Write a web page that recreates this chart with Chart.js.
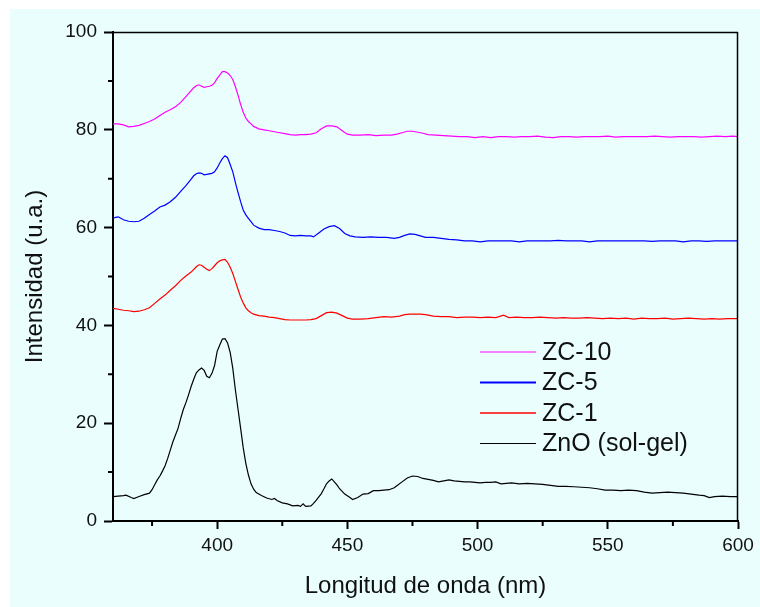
<!DOCTYPE html>
<html>
<head>
<meta charset="utf-8">
<script src="https://cdn.jsdelivr.net/npm/chart.js@4/dist/chart.umd.min.js"></script>
<style>
  html, body { margin: 0; padding: 0; background: #ffffff; }
  #wrap { width: 760px; height: 607px; }
</style>
</head>
<body>
<div id="wrap"><canvas id="c" width="760" height="607"></canvas></div>
<script>
// Photoluminescence spectra: wavelength (nm) and intensity (a.u.) per sample
const zc10Nm  = [360,362,364,366,368,370,372,374,376,378,380,382,384,386,388,390,391,392,393,394,395,396,397,398,399,400,401,402,403,404,405,406,407,408,409,410,411,412,413,414,416,418,420,422,424,426,428,430,432,434,436,438,440,442,444,446,448,450,452,455,458,461,464,467,469,471,473,475,477,479,481,484,487,490,493,496,499,502,505,508,511,514,517,520,523,526,529,532,535,538,541,544,547,550,553,556,559,562,565,568,571,574,577,580,583,586,589,592,595,598,600];
const zc10Int = [81.2,81.2,81.0,80.6,80.7,80.9,81.3,81.7,82.2,82.9,83.6,84.1,84.7,85.6,86.8,88.0,88.6,89.0,89.2,88.9,88.7,88.8,88.9,89.1,89.6,90.5,91.2,91.9,91.9,91.6,91.1,90.3,88.8,87.1,85.2,83.6,82.4,81.7,81.2,80.7,80.2,80.0,79.8,79.6,79.4,79.2,79.0,78.9,79.0,79.0,79.1,79.4,80.2,80.8,80.8,80.6,79.8,79.1,78.9,78.9,79.0,78.8,78.9,78.9,79.1,79.4,79.7,79.7,79.5,79.3,79.0,78.9,78.8,78.7,78.6,78.6,78.4,78.6,78.4,78.6,78.6,78.5,78.6,78.6,78.7,78.5,78.4,78.6,78.6,78.5,78.6,78.6,78.6,78.7,78.5,78.6,78.6,78.6,78.6,78.7,78.6,78.5,78.6,78.6,78.6,78.5,78.6,78.7,78.6,78.7,78.6];

const zc5Nm  = [360,361,362,363,364,366,368,370,372,374,376,378,380,382,384,386,388,390,391,392,393,394,395,396,397,398,399,400,401,402,403,404,405,406,407,408,409,410,411,412,413,414,416,418,420,422,424,426,428,430,432,434,436,437,439,441,443,445,447,449,451,453,456,459,462,465,468,470,472,474,476,478,480,483,486,489,492,495,498,501,504,507,510,513,516,519,522,525,528,531,534,537,540,543,546,549,552,555,558,561,564,567,570,573,576,579,582,585,588,591,594,597,600];
const zc5Int = [61.9,62.1,62.2,61.9,61.6,61.3,61.2,61.3,61.9,62.7,63.4,64.2,64.6,65.3,66.2,67.4,68.6,69.9,70.6,71.0,71.2,71.1,70.8,70.9,71.0,71.1,71.4,72.2,73.2,74.1,74.7,74.3,72.9,71.4,69.2,67.2,65.3,63.6,62.6,61.9,61.2,60.5,59.9,59.6,59.6,59.4,59.2,58.9,58.4,58.3,58.4,58.3,58.3,58.1,58.9,59.7,60.2,60.4,59.8,58.8,58.3,58.1,58.0,58.1,58.0,58.0,57.8,58.0,58.4,58.7,58.6,58.3,58.0,58.0,57.8,57.6,57.5,57.3,57.3,57.1,57.3,57.3,57.3,57.3,57.1,57.3,57.3,57.3,57.3,57.4,57.3,57.3,57.3,57.1,57.3,57.3,57.3,57.3,57.3,57.3,57.3,57.2,57.3,57.3,57.3,57.1,57.3,57.3,57.2,57.3,57.3,57.3,57.3];

const zc1Nm  = [360,362,364,366,368,370,372,374,376,378,380,382,384,386,388,390,392,393,394,395,396,397,398,399,400,401,402,403,404,405,406,407,408,409,410,411,412,413,414,416,418,420,422,424,426,428,430,432,434,436,438,440,442,444,446,448,450,452,455,458,461,464,467,470,472,474,476,478,480,483,486,489,492,495,498,501,504,507,510,512,515,518,521,524,527,530,533,536,539,542,545,548,551,554,557,560,563,566,569,572,575,578,581,584,587,590,593,596,600];
const zc1Int = [43.5,43.3,43.1,43.0,42.8,42.9,43.2,43.6,44.5,45.4,46.2,47.2,48.1,49.2,50.1,50.9,52.0,52.4,52.3,51.9,51.5,51.2,51.6,52.2,52.8,53.2,53.4,53.5,52.9,51.9,50.6,49.0,47.4,45.8,44.6,43.6,43.0,42.6,42.3,42.0,41.9,41.7,41.6,41.4,41.2,41.1,41.1,41.1,41.1,41.2,41.4,42.0,42.6,42.7,42.5,42.0,41.5,41.3,41.3,41.4,41.6,41.8,41.7,41.9,42.2,42.3,42.3,42.3,42.2,41.9,41.8,41.8,41.6,41.7,41.7,41.6,41.7,41.6,42.1,41.6,41.7,41.6,41.6,41.7,41.6,41.5,41.6,41.5,41.5,41.6,41.5,41.4,41.5,41.4,41.5,41.3,41.5,41.4,41.4,41.5,41.3,41.4,41.5,41.4,41.3,41.4,41.3,41.4,41.4];

const znoNm  = [360,362,364,365,367,368,370,372,374,375,376,377,378,379,380,381,382,383,384,385,386,387,388,389,390,391,392,393,394,395,396,397,398,399,400,401,402,403,404,405,406,407,408,409,410,411,412,413,414,415,417,419,421,422,423,425,427,429,431,432,433,434,436,437,438,440,441,442,443,444,445,446,447,449,451,452,454,456,458,460,462,464,466,468,469,471,473,475,477,479,481,483,485,487,489,491,493,495,497,499,501,503,505,507,509,511,513,516,519,522,525,528,531,534,537,540,543,546,549,552,555,558,561,564,567,570,573,576,579,582,585,587,589,591,594,597,600];
const znoInt = [5.0,5.1,5.2,5.3,4.8,4.6,5.0,5.4,5.7,6.4,7.4,8.4,9.2,10.2,11.3,12.8,14.5,16.2,17.6,19.0,21.0,22.8,24.2,25.8,27.5,29.0,30.3,30.9,31.3,30.8,29.6,29.3,30.2,31.8,34.7,36.0,37.2,37.3,36.4,34.5,31.2,26.8,22.9,19.0,15.0,11.8,9.4,7.6,6.5,5.8,5.2,4.7,4.4,4.6,4.2,3.7,3.5,3.1,3.2,3.0,3.5,3.0,3.1,3.6,4.2,5.6,6.6,7.6,8.2,8.6,8.0,7.4,6.6,5.5,4.8,4.4,4.8,5.5,5.6,6.2,6.2,6.3,6.4,6.8,7.2,8.0,8.8,9.2,9.1,8.7,8.5,8.3,8.0,8.2,8.4,8.2,8.1,8.0,8.0,7.9,7.8,7.9,7.9,8.0,7.6,7.7,7.8,7.6,7.7,7.6,7.5,7.3,7.1,7.1,7.0,6.9,6.8,6.6,6.3,6.3,6.2,6.3,6.2,5.9,5.7,5.8,5.9,5.8,5.7,5.5,5.3,5.2,4.8,5.0,5.1,5.0,5.0];

// Axis ticks
const xMajorTicks = [400, 450, 500, 550, 600];
const xMinorTicks = [375, 425, 475, 525, 575];
const yMinorTicks = [10, 30, 50, 70, 90];

const FONT = '"Liberation Sans", Arial, Helvetica, sans-serif';

function toPoints(xs, ys) {
  return xs.map((x, i) => ({ x: x, y: ys[i] }));
}

const series = [
  { label: 'ZC-10',         nm: zc10Nm, val: zc10Int, color: '#ff00ff', legendWidth: 1.2 },
  { label: 'ZC-5',          nm: zc5Nm,  val: zc5Int,  color: '#0000ff', legendWidth: 2 },
  { label: 'ZC-1',          nm: zc1Nm,  val: zc1Int,  color: '#ff0000', legendWidth: 1.3 },
  { label: 'ZnO (sol-gel)', nm: znoNm,  val: znoInt,  color: '#000000', legendWidth: 1.2 }
];

// Page background: white margin, pale cyan panel
const backgroundPlugin = {
  id: 'panelBackground',
  beforeDraw(chart) {
    const ctx = chart.ctx;
    ctx.save();
    ctx.fillStyle = '#ffffff';
    ctx.fillRect(0, 0, chart.width, chart.height);
    ctx.fillStyle = '#eafefe';
    ctx.fillRect(10, 9, chart.width - 10, chart.height - 9);
    ctx.restore();
  }
};

// Frame (top/right), minor tick marks and the in-plot legend
const framePlugin = {
  id: 'frameAndLegend',
  afterDraw(chart) {
    const ctx = chart.ctx;
    const a = chart.chartArea;
    const xs = chart.scales.x, ys = chart.scales.y;
    ctx.save();
    ctx.strokeStyle = '#000000';
    ctx.lineWidth = 1.5;
    ctx.beginPath();
    ctx.moveTo(a.left, a.top + 0.5);
    ctx.lineTo(a.right, a.top + 0.5);
    ctx.moveTo(a.right - 0.5, a.top);
    ctx.lineTo(a.right - 0.5, a.bottom);
    ctx.stroke();

    ctx.lineWidth = 2;
    ctx.beginPath();
    yMinorTicks.forEach(v => {
      const y = ys.getPixelForValue(v);
      ctx.moveTo(a.left - 5, y);
      ctx.lineTo(a.left, y);
    });
    xMinorTicks.forEach(v => {
      const x = xs.getPixelForValue(v);
      ctx.moveTo(x, a.bottom);
      ctx.lineTo(x, a.bottom + 5);
    });
    ctx.stroke();

    // legend
    const lx0 = 480, lx1 = 536, tx = 542, ly0 = 352, step = 30.5;
    ctx.font = '25px ' + FONT;
    ctx.textBaseline = 'middle';
    ctx.textAlign = 'left';
    chart.data.datasets.forEach((ds, i) => {
      const y = ly0 + i * step;
      ctx.strokeStyle = ds.borderColor;
      ctx.lineWidth = series[i].legendWidth;
      ctx.beginPath();
      ctx.moveTo(lx0, y);
      ctx.lineTo(lx1, y);
      ctx.stroke();
      ctx.fillStyle = '#111111';
      ctx.fillText(ds.label, tx, y + 1);
    });
    ctx.restore();
  }
};

new Chart(document.getElementById('c'), {
  type: 'line',
  data: {
    datasets: series.map(s => ({
      label: s.label,
      data: toPoints(s.nm, s.val),
      borderColor: s.color,
      backgroundColor: s.color,
      borderWidth: 1.2,
      pointRadius: 0,
      tension: 0,
      fill: false
    }))
  },
  options: {
    responsive: false,
    animation: false,
    events: [],
    layout: { padding: { top: 32, right: 22, left: 0, bottom: 0 } },
    plugins: {
      legend: { display: false },
      tooltip: { enabled: false }
    },
    scales: {
      x: {
        type: 'linear',
        min: 360,
        max: 600,
        afterBuildTicks(scale) {
          scale.ticks = xMajorTicks.map(v => ({ value: v }));
        },
        afterFit(scale) { scale.height = 86; },
        border: { display: true, color: '#000000', width: 2 },
        grid: {
          drawOnChartArea: false,
          drawTicks: true,
          tickLength: 8,
          tickWidth: 2,
          tickColor: '#000000'
        },
        ticks: {
          padding: 5,
          maxRotation: 0,
          autoSkip: false,
          color: '#111111',
          font: { family: FONT, size: 19 }
        },
        title: {
          display: true,
          text: 'Longitud de onda (nm)',
          color: '#111111',
          font: { family: FONT, size: 24 },
          padding: { top: 0, bottom: 6 }
        }
      },
      y: {
        type: 'linear',
        min: 0,
        max: 100,
        afterFit(scale) { scale.width = 113; },
        border: { display: true, color: '#000000', width: 2 },
        grid: {
          drawOnChartArea: false,
          drawTicks: true,
          tickLength: 9,
          tickWidth: 2,
          tickColor: '#000000'
        },
        ticks: {
          stepSize: 20,
          padding: 7,
          color: '#111111',
          font: { family: FONT, size: 19 }
        },
        title: {
          display: true,
          text: 'Intensidad (u.a.)',
          color: '#111111',
          font: { family: FONT, size: 24 },
          padding: { top: 21, bottom: 0 }
        }
      }
    }
  },
  plugins: [backgroundPlugin, framePlugin]
});
</script>
</body>
</html>
